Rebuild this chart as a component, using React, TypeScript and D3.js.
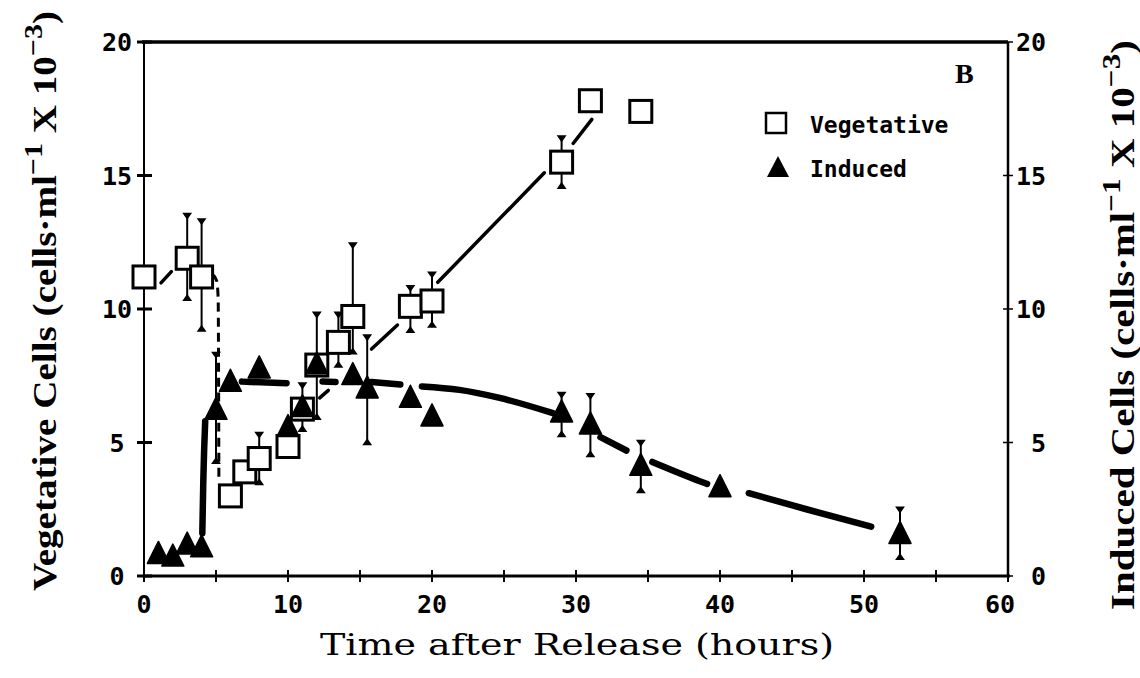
import React from "react";
import * as d3 from "d3";

// ---------- data ----------
const vegHours = [0, 3, 4, 6, 7, 8, 10, 11, 12, 13.5, 14.5, 18.5, 20, 29, 31, 34.5];
const vegCells = [11.2, 11.9, 11.2, 3.0, 3.9, 4.4, 4.85, 6.25, 7.9, 8.75, 9.72, 10.1, 10.3, 15.5, 17.8, 17.4];
const vegErrLow: (number | null)[] = [null, 10.4, 9.25, null, null, 3.5, 4.6, null, null, 7.9, 8.4, 9.2, 9.4, 14.6, null, null];
const vegErrHigh: (number | null)[] = [null, 13.5, 13.3, null, null, 5.3, 5.1, null, null, 9.8, 12.4, 10.8, 11.3, 16.4, null, null];

const indHours = [1, 2, 3, 4, 5, 6, 8, 10, 11, 12, 14.5, 15.5, 18.5, 20, 29, 31, 34.5, 40, 52.5];
const indCells = [0.8, 0.7, 1.15, 1.05, 6.2, 7.25, 7.75, 5.55, 6.3, 7.9, 7.5, 7.0, 6.65, 5.95, 6.1, 5.65, 4.1, 3.3, 1.55];
const indErrLow: (number | null)[] = [null, null, null, null, 4.3, null, null, null, 5.5, 5.95, null, 5.0, null, null, 5.3, 4.55, 3.2, null, 0.7];
const indErrHigh: (number | null)[] = [null, null, null, null, 8.3, null, null, null, 7.15, 9.8, null, 8.95, null, null, 6.8, 6.75, 5.0, null, 2.5];

// visible pieces of the hand-drawn trend lines (hours, cells)
const vegTrendSolid: [number, number][][] = [
  [[1.18, 10.98], [1.9, 11.4]],
  [[12.2, 6.67], [12.8, 6.95]],
  [[15.8, 8.5], [17.6, 9.4]],
  [[20.4, 11.0], [27.8, 15.1]],
  [[29.8, 16.2], [31.1, 17.1]],
];
const vegTrendDashed: [number, number][][] = [
  [[4.75, 11.3], [5.05, 11.05], [5.15, 10.4], [5.2, 3.6]],
];
const indTrend: [number, number][][] = [
  [[4.05, 1.6], [4.12, 3.6], [4.25, 5.8]],
  [[6.8, 7.28], [9.9, 7.22]],
  [[12.4, 7.28], [13.3, 7.27]],
  [[15.8, 7.27], [17.8, 7.17]],
  [[19.3, 7.1], [21.9, 6.97], [24.7, 6.67], [28.4, 6.1]],
  [[31.7, 5.2], [33.5, 4.7]],
  [[35.3, 4.27], [38.6, 3.55], [39.1, 3.45]],
  [[42, 3.1], [46, 2.5], [50.5, 1.85]],
];

const xTickLabels = [0, 10, 20, 30, 40, 50, 60];
const xTickMarks = [0, 5, 10, 15, 20, 25, 30, 35, 40, 45, 50, 55, 60];
const yTickLabels = [0, 5, 10, 15, 20];

const legendLabels = ["Vegetative", "Induced"];

// ---------- layout ----------
const W = 1140;
const H = 678;
const x = d3.scaleLinear().domain([0, 60]).range([144, 1008]);
const y = d3.scaleLinear().domain([0, 20]).range([576, 42]);

const line = d3
  .line<[number, number]>()
  .x((d) => x(d[0]))
  .y((d) => y(d[1]))
  .curve(d3.curveMonotoneX);
const lineLin = d3
  .line<[number, number]>()
  .x((d) => x(d[0]))
  .y((d) => y(d[1]));

const tickFont = "'DejaVu Sans Mono', monospace";
const serif = "'Liberation Serif', 'Times New Roman', serif";

function Square({ cx, cy, s = 22 }: { cx: number; cy: number; s?: number }) {
  return (
    <rect x={cx - s / 2} y={cy - s / 2} width={s} height={s} fill="#fff" stroke="#000" strokeWidth={3} />
  );
}
function Triangle({ cx, cy, s = 22 }: { cx: number; cy: number; s?: number }) {
  const h = s;
  const p = `M${cx},${cy - h * 0.6} L${cx + s / 2},${cy + h * 0.4} L${cx - s / 2},${cy + h * 0.4} Z`;
  return <path d={p} fill="#000" stroke="#000" strokeWidth={1.5} strokeLinejoin="round" />;
}

function ErrBars({ xs, lo, hi }: { xs: number[]; lo: (number | null)[]; hi: (number | null)[] }) {
  return (
    <g>
      {xs.map((h, i) => {
        const l = lo[i];
        const u = hi[i];
        if (l == null || u == null) return null;
        const cx = x(h);
        return (
          <g key={i}>
            <line x1={cx} x2={cx} y1={y(l)} y2={y(u)} stroke="#000" strokeWidth={2} />
            <path d={`M${cx - 3.5},${y(u) - 2} L${cx + 3.5},${y(u) - 2} L${cx},${y(u) + 3} Z`} fill="#000" stroke="#000" strokeWidth={1.5} />
            <path d={`M${cx - 3.5},${y(l) + 2} L${cx + 3.5},${y(l) + 2} L${cx},${y(l) - 3} Z`} fill="#000" stroke="#000" strokeWidth={1.5} />
          </g>
        );
      })}
    </g>
  );
}

export default function App() {
  const x0 = x(0), x1 = x(60), y0 = y(0), y1 = y(20);
  return (
    <svg width={W} height={H} viewBox={`0 0 ${W} ${H}`} style={{ position: "absolute", left: 0, top: 0, background: "#fff" }}>
      <rect x={0} y={0} width={W} height={H} fill="#fff" />

      {/* frame */}
      <line x1={x0 - 2} x2={x1} y1={y1} y2={y1} stroke="#000" strokeWidth={3.5} />
      <line x1={x0} x2={x1 + 2} y1={y0} y2={y0} stroke="#000" strokeWidth={3} />
      <line x1={x0} x2={x0} y1={y1} y2={y0} stroke="#000" strokeWidth={2} />
      <line x1={x1} x2={x1} y1={y1} y2={y0} stroke="#000" strokeWidth={2.5} />

      {/* ticks */}
      {yTickLabels.map((v) => (
        <g key={"yl" + v}>
          <line x1={x0 - 7} x2={x0 + 8} y1={y(v)} y2={y(v)} stroke="#000" strokeWidth={3} />
          <line x1={x1 - 5} x2={x1 + 5} y1={y(v)} y2={y(v)} stroke="#000" strokeWidth={1.5} />
          <text x={117} y={y(v)} dy="0.36em" textAnchor="middle" fontFamily={tickFont} fontWeight="bold" fontSize={25}>
            {v}
          </text>
          <text x={1046} y={y(v)} dy="0.36em" textAnchor="end" fontFamily={tickFont} fontWeight="bold" fontSize={25}>
            {v}
          </text>
        </g>
      ))}
      {xTickMarks.map((v) => (
        <line key={"xt" + v} x1={x(v)} x2={x(v)} y1={y0 - 6} y2={y0 + 6} stroke="#000" strokeWidth={2} />
      ))}
      {xTickLabels.map((v) => (
        <text key={"xl" + v} x={x(v) - (v === 60 ? 8 : 0)} y={613} textAnchor="middle" fontFamily={tickFont} fontWeight="bold" fontSize={25}>
          {v}
        </text>
      ))}

      {/* axis titles */}
      <text x={577} y={655} textAnchor="middle" fontFamily="'DejaVu Serif', serif" fontSize={30} textLength={514} lengthAdjust="spacingAndGlyphs">
        Time after Release (hours)
      </text>
      <text transform="translate(56,301) rotate(-90)" textAnchor="middle" fontFamily={serif} fontWeight="bold" fontSize={34} textLength={580} lengthAdjust="spacingAndGlyphs">
        Vegetative Cells (cells·ml
        <tspan dy={-14} fontSize={26}>−1</tspan>
        <tspan dy={14}> X 10</tspan>
        <tspan dy={-14} fontSize={26}>−3</tspan>
        <tspan dy={14}>)</tspan>
      </text>
      <text transform="translate(1134,325) rotate(-90)" textAnchor="middle" fontFamily={serif} fontWeight="bold" fontSize={34} textLength={570} lengthAdjust="spacingAndGlyphs">
        Induced Cells (cells·ml
        <tspan dy={-14} fontSize={26}>−1</tspan>
        <tspan dy={14}> X 10</tspan>
        <tspan dy={-14} fontSize={26}>−3</tspan>
        <tspan dy={14}>)</tspan>
      </text>

      {/* panel letter */}
      <text x={955} y={83} fontFamily={serif} fontWeight="bold" fontSize={28}>B</text>

      {/* legend */}
      <rect x={766} y={113} width={20} height={20} fill="#fff" stroke="#000" strokeWidth={2.5} />
      <text x={810} y={133} fontFamily={tickFont} fontWeight="bold" fontSize={23}>{legendLabels[0]}</text>
      <path d="M778,156 L789,177 L767,177 Z" fill="#000" />
      <text x={810} y={177} fontFamily={tickFont} fontWeight="bold" fontSize={23}>{legendLabels[1]}</text>

      {/* trend lines */}
      {vegTrendSolid.map((seg, i) => (
        <path key={"vs" + i} d={lineLin(seg) || ""} fill="none" stroke="#000" strokeWidth={3.5} strokeLinecap="round" />
      ))}
      {vegTrendDashed.map((seg, i) => (
        <path key={"vd" + i} d={line(seg) || ""} fill="none" stroke="#000" strokeWidth={3} strokeDasharray="9,6" />
      ))}
      {indTrend.map((seg, i) => (
        <path key={"it" + i} d={line(seg) || ""} fill="none" stroke="#000" strokeWidth={6.5} strokeLinecap="round" />
      ))}

      {/* error bars */}
      <ErrBars xs={vegHours} lo={vegErrLow} hi={vegErrHigh} />
      <ErrBars xs={indHours} lo={indErrLow} hi={indErrHigh} />

      {/* markers */}
      {vegHours.map((h, i) => (
        <Square key={"sq" + i} cx={x(h)} cy={y(vegCells[i])} />
      ))}
      {indHours.map((h, i) => (
        <Triangle key={"tr" + i} cx={x(h)} cy={y(indCells[i])} />
      ))}
    </svg>
  );
}
